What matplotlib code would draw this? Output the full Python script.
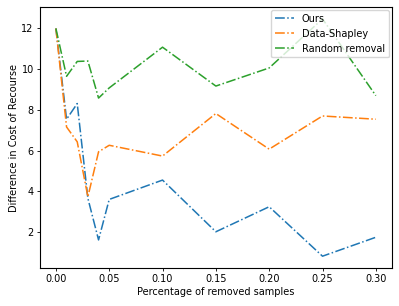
import numpy as np
import matplotlib
matplotlib.use("Agg")
import matplotlib.pyplot as plt

pct = [0.0, 0.01, 0.02, 0.03, 0.04, 0.05, 0.10, 0.15, 0.20, 0.25, 0.30]
ours = [12.0, 7.54, 8.31, 3.65, 1.61, 3.60, 4.55, 2.01, 3.24, 0.81, 1.74]
shapley = [12.0, 7.16, 6.43, 3.73, 5.94, 6.26, 5.73, 7.82, 6.07, 7.70, 7.54]
random_rm = [12.0, 9.65, 10.38, 10.40, 8.58, 9.08, 11.08, 9.17, 10.06, 12.47, 8.70]

fs = 7
lw = 1.1

fig = plt.figure(figsize=(3.99, 3.06), dpi=100)
ax = fig.add_axes([0.100, 0.124, 0.882, 0.853])
ax.plot(pct, ours, '-.', color='tab:blue', lw=lw, label='Ours')
ax.plot(pct, shapley, '-.', color='tab:orange', lw=lw, label='Data-Shapley')
ax.plot(pct, random_rm, '-.', color='tab:green', lw=lw, label='Random removal')

ax.set_xlabel('Percentage of removed samples', fontsize=fs, labelpad=2)
ax.set_ylabel('Difference in Cost of Recourse', fontsize=fs, labelpad=2)
ax.tick_params(labelsize=fs, width=0.6, length=2.4, pad=2)
for s in ax.spines.values():
    s.set_linewidth(0.8)
ax.legend(loc='upper right', fontsize=fs, borderaxespad=0.3, handlelength=2.0)

fig.savefig('out.png', dpi=100)
